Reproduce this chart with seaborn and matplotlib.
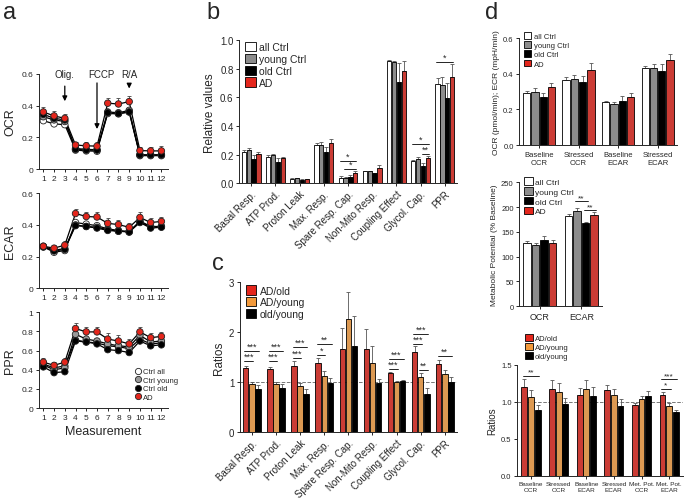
import numpy as np
import pandas as pd
import matplotlib.pyplot as plt
import seaborn as sns
from matplotlib.patches import Patch
from matplotlib.lines import Line2D

sns.set_theme(style="ticks")
plt.rcParams['font.family'] = ['Liberation Sans', 'DejaVu Sans']
plt.rcParams.update({'axes.linewidth': 0.7, 'xtick.major.width': 0.7, 'ytick.major.width': 0.7,
                     'xtick.major.size': 2.5, 'ytick.major.size': 2.5,
                     'xtick.major.pad': 1.5, 'ytick.major.pad': 1.5,
                     'xtick.labelsize': 6, 'ytick.labelsize': 6})

# ---------------- panel a: seahorse traces ----------------
measurements = list(range(1, 13))
trace_groups = ['Ctrl all', 'Ctrl young', 'Ctrl old', 'AD']
trace_colors = {'Ctrl all': 'white', 'Ctrl young': '#9a9a9a', 'Ctrl old': 'black', 'AD': '#e4261c'}

ocr_all = [0.305, 0.285, 0.28, 0.12, 0.115, 0.113, 0.35, 0.348, 0.36, 0.085, 0.085, 0.085]
ocr_young = [0.33, 0.31, 0.30, 0.13, 0.125, 0.122, 0.36, 0.355, 0.37, 0.09, 0.09, 0.09]
ocr_old = [0.345, 0.32, 0.31, 0.125, 0.12, 0.12, 0.355, 0.35, 0.36, 0.09, 0.09, 0.09]
ocr_ad = [0.36, 0.335, 0.32, 0.152, 0.147, 0.145, 0.415, 0.41, 0.425, 0.117, 0.115, 0.115]
ocr_ad_err = [0.03, 0.03, 0.025, 0.02, 0.025, 0.025, 0.035, 0.04, 0.035, 0.025, 0.025, 0.03]

ecar_all = [0.262, 0.227, 0.238, 0.415, 0.405, 0.395, 0.375, 0.365, 0.355, 0.425, 0.39, 0.39]
ecar_young = [0.265, 0.24, 0.25, 0.40, 0.39, 0.385, 0.37, 0.36, 0.36, 0.42, 0.385, 0.39]
ecar_old = [0.26, 0.235, 0.245, 0.395, 0.39, 0.38, 0.365, 0.36, 0.355, 0.415, 0.38, 0.385]
ecar_ad = [0.265, 0.253, 0.272, 0.472, 0.453, 0.45, 0.41, 0.402, 0.385, 0.447, 0.415, 0.422]
ecar_ad_err = [0.02, 0.02, 0.025, 0.03, 0.03, 0.03, 0.035, 0.03, 0.03, 0.035, 0.03, 0.025]

ppr_all = [0.46, 0.42, 0.44, 0.71, 0.69, 0.68, 0.65, 0.64, 0.62, 0.72, 0.67, 0.68]
ppr_young = [0.45, 0.40, 0.42, 0.77, 0.72, 0.70, 0.67, 0.65, 0.64, 0.76, 0.69, 0.70]
ppr_old = [0.43, 0.37, 0.38, 0.70, 0.69, 0.67, 0.61, 0.60, 0.58, 0.70, 0.65, 0.66]
ppr_ad = [0.48, 0.446, 0.48, 0.83, 0.795, 0.795, 0.72, 0.70, 0.67, 0.795, 0.735, 0.748]
ppr_ad_err = [0.04, 0.04, 0.04, 0.06, 0.05, 0.05, 0.06, 0.06, 0.05, 0.05, 0.05, 0.05]

# ---------------- panel b: relative values ----------------
param_cats = ['Basal Resp.', 'ATP Prod.', 'Proton Leak', 'Max. Resp.', 'Spare Resp. Cap.',
              'Non-Mito Resp.', 'Coupling Effect', 'Glycol. Cap.', 'PPR']
ctrl_groups = ['all Ctrl', 'young Ctrl', 'old Ctrl', 'AD']
ctrl_colors = {'all Ctrl': 'white', 'young Ctrl': '#8c8c8c', 'old Ctrl': 'black', 'AD': '#e4261c'}

rel_all = [0.22, 0.185, 0.032, 0.265, 0.04, 0.083, 0.855, 0.155, 0.695]
rel_young = [0.23, 0.195, 0.035, 0.265, 0.035, 0.083, 0.845, 0.17, 0.69]
rel_old = [0.17, 0.15, 0.025, 0.215, 0.045, 0.07, 0.71, 0.12, 0.595]
rel_ad = [0.205, 0.175, 0.03, 0.28, 0.07, 0.105, 0.785, 0.175, 0.745]
rel_all_err = [0.01, 0.01, 0.003, 0.015, 0.008, 0.003, 0.008, 0.01, 0.04]
rel_young_err = [0.015, 0.01, 0.003, 0.02, 0.006, 0.003, 0.01, 0.012, 0.05]
rel_old_err = [0.03, 0.025, 0.003, 0.04, 0.012, 0.005, 0.13, 0.02, 0.105]
rel_ad_err = [0.015, 0.01, 0.003, 0.03, 0.015, 0.025, 0.07, 0.018, 0.09]
# (category, bar a, bar b, y, label)
rel_sig = [(4, 0, 3, 0.158, '*'), (4, 1, 3, 0.10, '*'), (7, 0, 3, 0.275, '*'),
           (7, 2, 3, 0.204, '**'), (8, 0, 3, 0.85, '*')]

# ---------------- panel c: ratios ----------------
ratio_groups = ['AD/old', 'AD/young', 'old/young']
ratio_colors = {'AD/old': '#e4261c', 'AD/young': '#f39a3b', 'old/young': 'black'}
ratio_ad_old = [1.29, 1.27, 1.32, 1.39, 1.67, 1.67, 1.19, 1.60, 1.36]
ratio_ad_young = [0.97, 0.97, 0.93, 1.13, 2.26, 1.39, 1.01, 1.11, 1.17]
ratio_old_young = [0.87, 0.89, 0.76, 0.98, 1.73, 0.99, 1.03, 0.76, 1.01]
ratio_ad_old_err = [0.04, 0.04, 0.1, 0.1, 0.41, 0.4, 0.02, 0.12, 0.08]
ratio_ad_young_err = [0.03, 0.03, 0.05, 0.09, 0.55, 0.33, 0.01, 0.07, 0.07]
ratio_old_young_err = [0.08, 0.08, 0.1, 0.1, 0.6, 0.07, 0.01, 0.12, 0.09]
ratio_sig = [(0, 0, 2, 1.63, '***'), (0, 0, 1, 1.42, '***'), (1, 0, 2, 1.63, '***'), (1, 0, 1, 1.42, '***'),
             (2, 0, 2, 1.70, '***'), (2, 0, 1, 1.49, '***'), (3, 0, 2, 1.76, '**'), (3, 0, 1, 1.55, '*'),
             (6, 0, 2, 1.47, '***'), (6, 0, 1, 1.26, '***'), (7, 0, 2, 1.97, '***'), (7, 0, 1, 1.76, '***'),
             (7, 1, 2, 1.25, '**'), (8, 0, 2, 1.53, '**')]

# ---------------- panel d ----------------
rate_cats = ['Baseline\nOCR', 'Stressed\nOCR', 'Baseline\nECAR', 'Stressed\nECAR']
rate_all = [0.29, 0.365, 0.24, 0.43]
rate_young = [0.30, 0.37, 0.23, 0.435]
rate_old = [0.27, 0.355, 0.25, 0.415]
rate_ad = [0.325, 0.42, 0.27, 0.48]
rate_all_err = [0.015, 0.015, 0.01, 0.015]
rate_young_err = [0.02, 0.025, 0.01, 0.02]
rate_old_err = [0.02, 0.035, 0.025, 0.04]
rate_ad_err = [0.025, 0.04, 0.025, 0.03]

pot_cats = ['OCR', 'ECAR']
pot_all = [127, 182]
pot_young = [123, 192]
pot_old = [134, 167]
pot_ad = [128, 183]
pot_all_err = [4, 4]
pot_young_err = [4, 7]
pot_old_err = [8, 3]
pot_ad_err = [5, 7]
pot_sig = [(1, 1, 2, 212, '**'), (1, 2, 3, 194, '**')]

dratio_cats = ['Baseline\nOCR', 'Stressed\nOCR', 'Baseline\nECAR', 'Stressed\nECAR', 'Met. Pot.\nOCR', 'Met. Pot.\nECAR']
dratio_ad_old = [1.20, 1.18, 1.09, 1.16, 0.96, 1.09]
dratio_ad_young = [1.07, 1.14, 1.18, 1.10, 1.04, 0.95]
dratio_old_young = [0.89, 0.97, 1.08, 0.95, 1.08, 0.87]
dratio_ad_old_err = [0.11, 0.11, 0.1, 0.07, 0.03, 0.05]
dratio_ad_young_err = [0.09, 0.11, 0.11, 0.07, 0.04, 0.04]
dratio_old_young_err = [0.07, 0.08, 0.12, 0.09, 0.07, 0.02]
dratio_sig = [(0, 0, 2, 1.356, '**'), (5, 0, 2, 1.31, '***'), (5, 0, 1, 1.18, '*')]


def clean(ax):
    sns.despine(ax=ax)
    ax.set_xlabel('')


def draw_trace(ax, series, ad_err, ylim, yticks, yticklabels, ylabel, legend=False):
    rows = []
    for g, vals in zip(trace_groups, series):
        for m, v in zip(measurements, vals):
            rows.append((g, m, v))
    df = pd.DataFrame(rows, columns=['group', 'measurement', 'value'])
    ax.errorbar(measurements, series[-1], yerr=[np.zeros(len(ad_err)), ad_err], fmt='none',
                ecolor='#444444', elinewidth=0.6, capsize=1.3, capthick=0.6, zorder=1)
    sns.lineplot(data=df, x='measurement', y='value', units='group', estimator=None,
                 color='black', lw=0.9, ax=ax, legend=False, zorder=2)
    sns.scatterplot(data=df, x='measurement', y='value', hue='group', hue_order=trace_groups,
                    palette=trace_colors, edgecolor='#222222', linewidth=0.6, s=22,
                    ax=ax, legend=False, zorder=3)
    ax.set_xlim(0.6, 12.6)
    ax.set_ylim(*ylim)
    ax.set_xticks(measurements)
    ax.set_yticks(yticks)
    ax.set_yticklabels(yticklabels)
    clean(ax)
    ax.set_ylabel(ylabel, fontsize=9, labelpad=4)
    if legend:
        handles = [Line2D([], [], marker='o', ls='', markerfacecolor=trace_colors[g],
                          markeredgecolor='#222222', markersize=4.5, markeredgewidth=0.6) for g in trace_groups]
        ax.legend(handles, trace_groups, loc='lower right', bbox_to_anchor=(1.12, 0.02), frameon=False,
                  fontsize=5.5, handletextpad=0.1, labelspacing=0.15, borderpad=0.2, handlelength=1.0)


def draw_bars(ax, cats, series, errs, names, colors, width, gap=0.12):
    rows = [(c, n, v) for n, vals in zip(names, series) for c, v in zip(cats, vals)]
    df = pd.DataFrame(rows, columns=['cat', 'group', 'value'])
    sns.barplot(data=df, x='cat', y='value', hue='group', hue_order=names, palette=colors,
                edgecolor='black', linewidth=0.6, width=width, gap=gap, errorbar=None,
                ax=ax, legend=False, zorder=2)
    bar_conts = list(ax.containers)
    centers = []
    for cont, e in zip(bar_conts, errs):
        xs = [b.get_x() + b.get_width() / 2 for b in cont]
        hs = [b.get_height() for b in cont]
        ax.errorbar(xs, hs, yerr=[np.zeros(len(e)), e], fmt='none', ecolor='#555555',
                    elinewidth=0.6, capsize=1.3, capthick=0.6, zorder=1)
        centers.append(xs)
    ax.set_xlim(-0.5, len(cats) - 0.5)
    clean(ax)
    return centers


def draw_sig(ax, centers, sig, fs=6.5):
    for cat, a, b, y, label in sig:
        x1, x2 = centers[a][cat] - 0.05, centers[b][cat] + 0.05
        ax.plot([x1, x2], [y, y], color='black', lw=0.6)
        ax.text((x1 + x2) / 2, y, label, ha='center', va='bottom', fontsize=fs, linespacing=0.8)


def square_legend(ax, names, colors, **kw):
    handles = [Patch(facecolor=colors[n], edgecolor='black', linewidth=0.6) for n in names]
    ax.legend(handles, names, frameon=False, handlelength=1.0, handleheight=1.0,
              handletextpad=0.3, labelspacing=0.15, borderpad=0.1, **kw)


fig = plt.figure(figsize=(6.85, 5.02), dpi=100)

# panel a
ax_ocr = fig.add_axes([0.057, 0.661, 0.188, 0.19])
ax_ecar = fig.add_axes([0.057, 0.424, 0.188, 0.189])
ax_ppr = fig.add_axes([0.057, 0.185, 0.188, 0.191])
draw_trace(ax_ocr, [ocr_all, ocr_young, ocr_old, ocr_ad], ocr_ad_err, (0, 0.6),
           [0, 0.2, 0.4, 0.6], ['0', '0.2', '0.4', '0.6'], 'OCR')
draw_trace(ax_ecar, [ecar_all, ecar_young, ecar_old, ecar_ad], ecar_ad_err, (0, 0.6),
           [0, 0.2, 0.4, 0.6], ['0', '0.2', '0.4', '0.6'], 'ECAR')
draw_trace(ax_ppr, [ppr_all, ppr_young, ppr_old, ppr_ad], ppr_ad_err, (0, 1.0),
           [0, 0.2, 0.4, 0.6, 0.8, 1.0], ['0', '0.2', '0.4', '0.6', '0.8', '1'], 'PPR', legend=True)
ax_ppr.set_xlabel('Measurement', fontsize=9, labelpad=3)

arrow_kw = dict(arrowstyle='-|>', color='black', lw=0.9, mutation_scale=7)
ax_ocr.annotate('', xy=(3, 0.41), xytext=(3, 0.54), arrowprops=arrow_kw, annotation_clip=False)
ax_ocr.annotate('', xy=(6, 0.235), xytext=(6, 0.56), arrowprops=arrow_kw, annotation_clip=False)
ax_ocr.annotate('', xy=(9, 0.49), xytext=(9, 0.555), arrowprops=arrow_kw, annotation_clip=False)
for xpos, txt in [(3, 'Olig.'), (6.4, 'FCCP'), (9, 'R/A')]:
    ax_ocr.text(xpos, 0.6, txt, ha='center', va='center', fontsize=7)

# panel b
ax_b = fig.add_axes([0.349, 0.633, 0.318, 0.285])
cent_b = draw_bars(ax_b, param_cats, [rel_all, rel_young, rel_old, rel_ad],
                   [rel_all_err, rel_young_err, rel_old_err, rel_ad_err], ctrl_groups, ctrl_colors, 0.8)
ax_b.set_ylim(0, 1.0)
ax_b.set_yticks([0, 0.2, 0.4, 0.6, 0.8, 1.0])
ax_b.set_yticklabels(['0.0', '0.2', '0.4', '0.6', '0.8', '1.0'], fontsize=7)
ax_b.set_ylabel('Relative values', fontsize=8.5, labelpad=3)
ax_b.tick_params(axis='x', labelsize=7)
plt.setp(ax_b.get_xticklabels(), rotation=45, ha='right', rotation_mode='anchor')
draw_sig(ax_b, cent_b, rel_sig)
square_legend(ax_b, ctrl_groups, ctrl_colors, loc='upper left', bbox_to_anchor=(0.0, 1.03), fontsize=7.5)

# panel c
ax_c = fig.add_axes([0.350, 0.137, 0.317, 0.299])
cent_c = draw_bars(ax_c, param_cats, [ratio_ad_old, ratio_ad_young, ratio_old_young],
                   [ratio_ad_old_err, ratio_ad_young_err, ratio_old_young_err], ratio_groups, ratio_colors, 0.76)
ax_c.axhline(1, ls='--', color='#777777', lw=0.7, zorder=0)
ax_c.set_ylim(0, 3)
ax_c.set_yticks([0, 1, 2, 3])
ax_c.tick_params(axis='y', labelsize=7)
ax_c.set_ylabel('Ratios', fontsize=8.5, labelpad=3)
ax_c.tick_params(axis='x', labelsize=7)
plt.setp(ax_c.get_xticklabels(), rotation=45, ha='right', rotation_mode='anchor')
draw_sig(ax_c, cent_c, ratio_sig)
square_legend(ax_c, ratio_groups, ratio_colors, loc='upper left', bbox_to_anchor=(0.0, 1.02), fontsize=7.5)

# panel d top
ax_d1 = fig.add_axes([0.758, 0.709, 0.231, 0.213])
draw_bars(ax_d1, rate_cats, [rate_all, rate_young, rate_old, rate_ad],
          [rate_all_err, rate_young_err, rate_old_err, rate_ad_err], ctrl_groups, ctrl_colors, 0.84)
ax_d1.set_ylim(0, 0.6)
ax_d1.set_yticks([0, 0.2, 0.4, 0.6])
ax_d1.set_yticklabels(['0.0', '0.2', '0.4', '0.6'], fontsize=5.5)
ax_d1.tick_params(axis='x', labelsize=5.5)
ax_d1.set_ylabel('OCR (pmol/min); ECR (mpH/min)', fontsize=6, labelpad=2)
square_legend(ax_d1, ctrl_groups, ctrl_colors, loc='upper left', bbox_to_anchor=(0.0, 1.1), fontsize=5.5)

# panel d middle
ax_d2 = fig.add_axes([0.758, 0.388, 0.121, 0.247])
cent_d2 = draw_bars(ax_d2, pot_cats, [pot_all, pot_young, pot_old, pot_ad],
                    [pot_all_err, pot_young_err, pot_old_err, pot_ad_err], ctrl_groups, ctrl_colors, 0.82)
ax_d2.set_ylim(0, 250)
ax_d2.set_yticks([0, 50, 100, 150, 200, 250])
ax_d2.tick_params(axis='y', labelsize=5.5)
ax_d2.tick_params(axis='x', labelsize=6.5)
ax_d2.set_ylabel('Metabolic Potential (% Baseline)', fontsize=6, labelpad=2)
draw_sig(ax_d2, cent_d2, pot_sig, fs=6)
square_legend(ax_d2, ctrl_groups, ctrl_colors, loc='upper left', bbox_to_anchor=(0.0, 1.08), fontsize=6)

# panel d bottom
ax_d3 = fig.add_axes([0.755, 0.050, 0.242, 0.221])
cent_d3 = draw_bars(ax_d3, dratio_cats, [dratio_ad_old, dratio_ad_young, dratio_old_young],
                    [dratio_ad_old_err, dratio_ad_young_err, dratio_old_young_err],
                    ratio_groups, ratio_colors, 0.72)
ax_d3.axhline(1, ls='--', color='#777777', lw=0.7, zorder=0)
ax_d3.set_ylim(0, 1.5)
ax_d3.set_yticks([0, 0.5, 1.0, 1.5])
ax_d3.set_yticklabels(['0.0', '0.5', '1.0', '1.5'], fontsize=5.5)
ax_d3.tick_params(axis='x', labelsize=4.6)
ax_d3.set_ylabel('Ratios', fontsize=7, labelpad=3)
draw_sig(ax_d3, cent_d3, dratio_sig, fs=6)
square_legend(ax_d3, ratio_groups, ratio_colors, loc='lower left', bbox_to_anchor=(0.02, 1.0), fontsize=5.5)

# panel letters
for x, y, letter in [(0.005, 0.975, 'a'), (0.302, 0.975, 'b'), (0.31, 0.475, 'c'), (0.708, 0.975, 'd')]:
    fig.text(x, y, letter, fontsize=17, va='center', ha='left')

fig.savefig('out.png', dpi=100)
